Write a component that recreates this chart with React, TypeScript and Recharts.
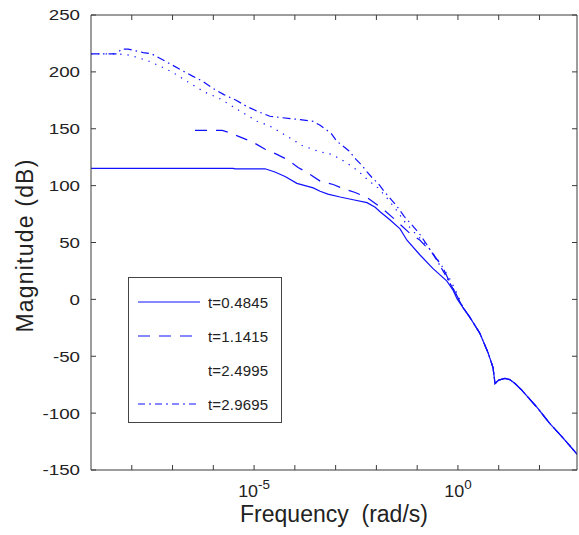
import React from 'react';
import { LineChart, Line, XAxis, YAxis, Label } from 'recharts';

const seriesNames = ['t=0.4845', 't=1.1415', 't=2.4995', 't=2.9695'];
const seriesDash = ['', '12 9', '1.3 6', '8 4 1.5 4'];
const legendDash = ['', '12 9', '0 62', '7 4 2 4'];
const lineColor = '#1010ff';

// x = log10(frequency in rad/s), y = magnitude in dB
const xTicks = [-8, -7, -6, -5, -4, -3, -2, -1, 0, 1, 2];
const xLabelled = [-5, 0];
const yTicks = [-150, -100, -50, 0, 50, 100, 150, 200, 250];

// all four curves share this high-frequency tail
const tailX = [0.12, 0.29, 0.54, 0.74, 0.86, 0.91, 1.0, 1.15, 1.27, 1.4, 1.57, 1.94, 2.25, 2.57, 2.92];
const tailDb = [-7, -15.6, -30, -47, -60, -74, -71, -69.5, -70.5, -74, -80, -95, -109, -121.5, -136];

const solidX = [-9, -5.51, -5.47, -4.73, -4.49, -4.24, -3.95, -3.75, -3.55, -3.38, -3.19, -2.89, -2.57, -2.23, -2.03, -1.91, -1.67, -1.42, -1.25, -0.93, -0.61, -0.27, -0.12, -0.02];
const solidDb = [115.2, 115.2, 114.8, 114.8, 112, 108, 102, 100, 98, 95, 92.5, 90, 87.6, 85, 81, 77, 70, 62, 52, 39, 27, 16, 8, 0.4];

const dashedX = [-6.45, -5.78, -5.64, -5.29, -5.02, -4.73, -4.44, -4.19, -3.92, -3.63, -3.38, -3.06, -2.82, -2.52, -2.21, -1.86, -1.54, -1.18, -0.93, -0.61, -0.37, -0.2, -0.02];
const dashedDb = [148.5, 148.5, 147, 142, 138, 132, 127.5, 123, 116, 110, 104, 101, 97.5, 94, 89, 80, 70, 58, 52, 40, 28, 15, 3];

const dottedX = [-9, -8.36, -8.06, -7.89, -7.62, -7.18, -6.91, -6.57, -6.2, -5.86, -5.59, -5.32, -4.93, -4.63, -4.22, -3.82, -3.41, -3.09, -2.77, -2.45, -2.21, -1.96, -1.76, -1.54, -1.3, -1.1, -0.88, -0.69, -0.44, -0.2, -0.02];
const dottedDb = [215.8, 215.8, 214.7, 213, 210, 203, 197.7, 190, 182, 176.8, 171, 165, 156.7, 152.7, 144, 135.3, 130, 127.4, 121, 113, 105, 98, 90, 80, 68, 60, 52, 44, 32, 18, 5];

const dashDotX = [-9, -8.36, -8.26, -8.09, -7.72, -7.52, -7.16, -6.79, -6.52, -6.27, -6.03, -5.74, -5.44, -5.2, -4.9, -4.61, -4.31, -3.87, -3.55, -3.38, -3.11, -2.97, -2.67, -2.5, -2.35, -2.23, -2.08, -1.96, -1.81, -1.69, -1.5, -1.32, -1.13, -0.93, -0.76, -0.51, -0.27, -0.07];
const dashDotDb = [215.8, 215.8, 220, 220, 217, 216, 209, 201.7, 196.5, 192, 186, 180, 175, 170, 165, 161, 159.7, 158, 156.5, 153, 146, 139, 130.5, 123, 117.6, 112, 106, 102, 95, 90, 82, 73, 65.5, 57, 48, 34, 19, 6];

const toPoints = (xs: number[], ys: number[]) => {
  const allX = xs.concat(tailX);
  const allY = ys.concat(tailDb);
  return allX.map((x, i) => ({ x, db: allY[i] }));
};

const seriesData = [
  toPoints(solidX, solidDb),
  toPoints(dashedX, dashedDb),
  toPoints(dottedX, dottedDb),
  toPoints(dashDotX, dashDotDb),
];

const font = '"Liberation Sans", Arial, sans-serif';
const axisColor = '#3a3a3a';
const textColor = '#222';

const NoTick = () => <g />;

// matlab-style wide glyphs: stretch the labels a bit horizontally
const DbTick = ({ x, y, payload }: any) => (
  <text
    transform={`translate(${x},${y}) scale(1.25,1)`}
    textAnchor="end"
    dy="0.36em"
    fill={textColor}
    fontSize={15}
    fontFamily={font}
  >
    {payload.value}
  </text>
);

const FreqTick = ({ x, y, payload }: any) => {
  if (!xLabelled.includes(payload.value)) return <g />;
  return (
    <text
      transform={`translate(${x},${y + 32}) scale(1.12,1)`}
      textAnchor="middle"
      fill={textColor}
      fontSize={16}
      fontFamily={font}
    >
      10
      <tspan dy={-8} fontSize={12}>{payload.value}</tspan>
    </text>
  );
};

const BoxLegend = () => (
  <div
    style={{
      position: 'absolute',
      left: 128,
      top: 277,
      width: 154,
      height: 146,
      boxSizing: 'border-box',
      border: '1px solid #444',
      background: '#fff',
      paddingTop: 7,
      fontFamily: font,
    }}
  >
    {seriesNames.map((name, i) => (
      <div key={name} style={{ height: 34, display: 'flex', alignItems: 'center' }}>
        <svg width={62} height={6} style={{ marginLeft: 9, marginRight: 8 }}>
          <line x1={0} x2={62} y1={3} y2={3} stroke={lineColor} strokeWidth={1.2} strokeDasharray={legendDash[i]} />
        </svg>
        <span style={{ fontSize: 15, color: textColor, letterSpacing: 0.2 }}>{name}</span>
      </div>
    ))}
  </div>
);

export default function App() {
  return (
    <div style={{ position: 'absolute', left: 0, top: 0, width: 579, height: 535, background: '#fff' }}>
      <LineChart width={579} height={535} margin={{ top: 14, right: 0, bottom: 0, left: 0 }}>
        <XAxis
          xAxisId="bottom"
          type="number"
          dataKey="x"
          domain={[-9, 2.92]}
          allowDataOverflow
          ticks={xTicks}
          interval={0}
          height={65}
          tickSize={-5}
          tickMargin={0}
          stroke={axisColor}
          tick={<FreqTick />}
        >
          <Label
            content={({ viewBox }: any) => (
              <text
                x={viewBox.x + viewBox.width / 2}
                y={viewBox.y + 52}
                textAnchor="middle"
                fill={textColor}
                fontSize={23}
                fontFamily={font}
                style={{ whiteSpace: 'pre' }}
              >
                {'Frequency  (rad/s)'}
              </text>
            )}
          />
        </XAxis>
        <XAxis
          xAxisId="top"
          orientation="top"
          type="number"
          dataKey="x"
          domain={[-9, 2.92]}
          allowDataOverflow
          ticks={xTicks}
          interval={0}
          height={1}
          tickSize={-5}
          stroke={axisColor}
          tick={<NoTick />}
        />
        <YAxis
          yAxisId="left"
          type="number"
          domain={[-150, 250]}
          ticks={yTicks}
          interval={0}
          width={91}
          tickSize={-5}
          tickMargin={16}
          stroke={axisColor}
          tick={<DbTick />}
        >
          <Label
            content={({ viewBox }: any) => {
              const cx = viewBox.x + 33;
              const cy = viewBox.y + viewBox.height / 2 + 3;
              return (
                <text
                  x={cx}
                  y={cy}
                  transform={`rotate(-90 ${cx} ${cy})`}
                  textAnchor="middle"
                  fill={textColor}
                  fontSize={23}
                  letterSpacing={1.2}
                  fontFamily={font}
                >
                  Magnitude (dB)
                </text>
              );
            }}
          />
        </YAxis>
        <YAxis
          yAxisId="right"
          orientation="right"
          type="number"
          domain={[-150, 250]}
          ticks={yTicks}
          interval={0}
          width={2}
          tickSize={-5}
          stroke={axisColor}
          tick={<NoTick />}
        />
        {seriesData.map((d, i) => (
          <Line
            key={seriesNames[i]}
            name={seriesNames[i]}
            data={d}
            dataKey="db"
            xAxisId={i === 3 ? 'top' : 'bottom'}
            yAxisId={i === 3 ? 'right' : 'left'}
            type="linear"
            stroke={lineColor}
            strokeWidth={1.2}
            strokeDasharray={seriesDash[i] || undefined}
            dot={false}
            isAnimationActive={false}
          />
        ))}
      </LineChart>
      <BoxLegend />
    </div>
  );
}
